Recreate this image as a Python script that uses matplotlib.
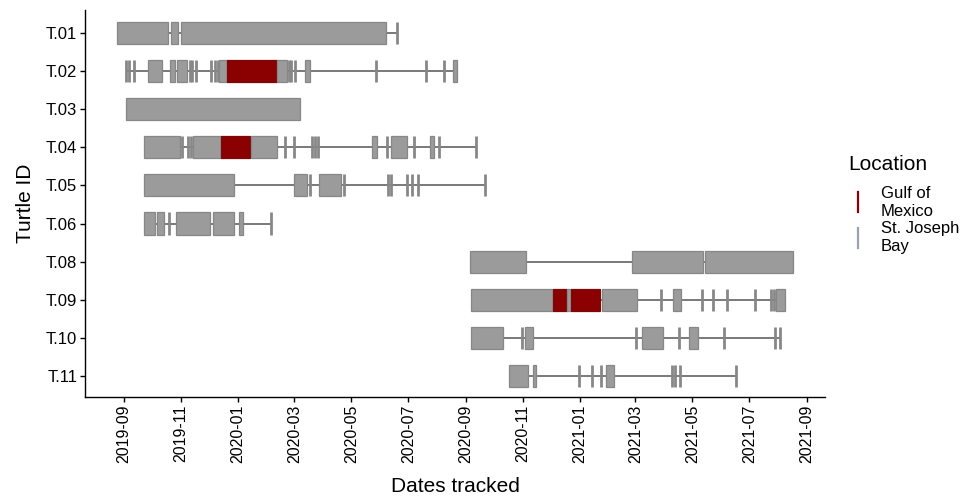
import matplotlib.pyplot as plt
import matplotlib.dates as mdates
from matplotlib.patches import Rectangle
from matplotlib.lines import Line2D

plt.rcParams['font.family'] = ['Liberation Sans', 'DejaVu Sans']

ids = ['T.01', 'T.02', 'T.03', 'T.04', 'T.05', 'T.06', 'T.08', 'T.09', 'T.10', 'T.11']

# runs of consecutive daily fixes: (first day, last day, location)
# single fixes: (day, location);  G = Gulf of Mexico, S = St. Joseph Bay
t01_runs = [('2019-08-24', '2019-10-18', 'S'), ('2019-10-21', '2019-10-29', 'S'),
            ('2019-11-01', '2020-06-07', 'S')]
t01_days = [('2020-06-19', 'S')]

t02_runs = [('2019-09-26', '2019-10-11', 'S'), ('2019-10-20', '2019-10-25', 'S'),
            ('2019-10-27', '2019-11-07', 'S'), ('2019-12-11', '2019-12-20', 'S'),
            ('2019-12-20', '2020-02-12', 'G'), ('2020-02-12', '2020-02-22', 'S'),
            ('2020-03-12', '2020-03-18', 'S'), ('2020-08-18', '2020-08-22', 'S')]
t02_days = [('2019-09-03', 'S'), ('2019-09-06', 'S'), ('2019-09-11', 'S'),
            ('2019-11-10', 'S'), ('2019-11-13', 'S'), ('2019-11-17', 'S'),
            ('2019-12-03', 'S'), ('2019-12-07', 'S'), ('2019-12-10', 'S'),
            ('2020-02-24', 'S'), ('2020-02-27', 'S'), ('2020-03-02', 'S'),
            ('2020-05-27', 'S'), ('2020-07-20', 'S'), ('2020-08-08', 'S')]

t03_runs = [('2019-09-03', '2020-03-07', 'S')]
t03_days = []

t04_runs = [('2019-09-22', '2019-10-31', 'S'), ('2019-11-14', '2019-12-14', 'S'),
            ('2019-12-14', '2020-01-14', 'G'), ('2020-01-15', '2020-02-11', 'S'),
            ('2020-05-23', '2020-05-29', 'S'), ('2020-06-12', '2020-06-30', 'S'),
            ('2020-07-24', '2020-07-29', 'S')]
t04_days = [('2019-11-02', 'S'), ('2019-11-08', 'S'), ('2019-11-11', 'S'),
            ('2020-02-20', 'S'), ('2020-03-01', 'S'), ('2020-03-20', 'S'),
            ('2020-03-23', 'S'), ('2020-03-26', 'S'), ('2020-06-08', 'S'),
            ('2020-07-07', 'S'), ('2020-08-03', 'S'), ('2020-09-12', 'S')]

t05_runs = [('2019-09-22', '2019-12-27', 'S'), ('2020-03-01', '2020-03-15', 'S'),
            ('2020-03-27', '2020-04-20', 'S')]
t05_days = [('2020-03-18', 'S'), ('2020-04-23', 'S'), ('2020-06-09', 'S'),
            ('2020-06-12', 'S'), ('2020-06-30', 'S'), ('2020-07-05', 'S'),
            ('2020-07-11', 'S'), ('2020-09-21', 'S')]

t06_runs = [('2019-09-22', '2019-10-04', 'S'), ('2019-10-06', '2019-10-14', 'S'),
            ('2019-10-26', '2019-12-02', 'S'), ('2019-12-05', '2019-12-27', 'S'),
            ('2020-01-02', '2020-01-06', 'S')]
t06_days = [('2019-10-19', 'S'), ('2020-02-05', 'S')]

t08_runs = [('2020-09-05', '2020-11-04', 'S'), ('2021-02-25', '2021-05-12', 'S'),
            ('2021-05-15', '2021-08-17', 'S')]
t08_days = []

t09_runs = [('2020-09-06', '2020-12-03', 'S'), ('2020-12-03', '2020-12-18', 'G'),
            ('2020-12-18', '2020-12-22', 'S'), ('2020-12-22', '2021-01-22', 'G'),
            ('2021-01-24', '2021-03-03', 'S'), ('2021-04-10', '2021-04-19', 'S'),
            ('2021-07-30', '2021-08-08', 'S')]
t09_days = [('2021-03-29', 'S'), ('2021-05-11', 'S'), ('2021-05-23', 'S'),
            ('2021-06-07', 'S'), ('2021-07-07', 'S'), ('2021-07-24', 'S'),
            ('2021-07-27', 'S')]

t10_runs = [('2020-09-06', '2020-10-10', 'S'), ('2020-11-03', '2020-11-12', 'S'),
            ('2021-03-08', '2021-03-31', 'S'), ('2021-04-27', '2021-05-07', 'S')]
t10_days = [('2020-10-31', 'S'), ('2021-03-02', 'S'), ('2021-04-17', 'S'),
            ('2021-06-04', 'S'), ('2021-07-28', 'S'), ('2021-08-03', 'S')]

t11_runs = [('2020-10-17', '2020-11-06', 'S'), ('2020-11-12', '2020-11-15', 'S'),
            ('2021-01-29', '2021-02-06', 'S')]
t11_days = [('2020-12-31', 'S'), ('2021-01-14', 'S'), ('2021-01-23', 'S'),
            ('2021-04-09', 'S'), ('2021-04-13', 'S'), ('2021-04-18', 'S'),
            ('2021-06-17', 'S')]

runs = [t01_runs, t02_runs, t03_runs, t04_runs, t05_runs,
        t06_runs, t08_runs, t09_runs, t10_runs, t11_runs]
days = [t01_days, t02_days, t03_days, t04_days, t05_days,
        t06_days, t08_days, t09_days, t10_days, t11_days]

fill = {'G': '#8b0000', 'S': '#9b9b9b'}
edge = {'G': '#7a0a0a', 'S': '#878787'}
h = 0.58

W, H = 966, 501
fig = plt.figure(figsize=(W / 100, H / 100), dpi=100)
ax = fig.add_axes([0.088, 0.2076, 0.766, 0.7724])

for i in range(len(ids)):
    y = i + 1
    d = [r[0] for r in runs[i]] + [r[1] for r in runs[i]] + [p[0] for p in days[i]]
    nums = mdates.datestr2num(d)
    ax.hlines(y, nums.min(), nums.max(), color='#6e6e6e', lw=1.3, zorder=1)
    for s, e, loc in runs[i]:
        s, e = mdates.datestr2num([s, e])
        ax.add_patch(Rectangle((s, y - h / 2), e - s, h, fc=fill[loc], ec=edge[loc],
                               lw=0.9, zorder=2))
    for p, loc in days[i]:
        ax.vlines(mdates.datestr2num(p), y - h / 2, y + h / 2, color=edge[loc],
                  lw=2.0, zorder=3)

ax.set_xlim(mdates.datestr2num(['2019-07-21', '2021-09-20']))
ax.xaxis.set_major_locator(mdates.MonthLocator(bymonth=[1, 3, 5, 7, 9, 11]))
ax.xaxis.set_major_formatter(mdates.DateFormatter('%Y-%m'))
ax.set_yticks(range(1, len(ids) + 1), ids)
ax.set_ylim(10.55, 0.4)

for s in ['top', 'right']:
    ax.spines[s].set_visible(False)
for s in ['left', 'bottom']:
    ax.spines[s].set_linewidth(1.0)
ax.tick_params(axis='both', length=3.6, width=1.0, colors='black', pad=2)
ax.tick_params(axis='y', labelsize=12)
ax.tick_params(axis='x', labelsize=11.5, labelrotation=90)

ax.set_xlabel('Dates tracked', fontsize=15, labelpad=10)
ax.set_ylabel('Turtle ID', fontsize=15, labelpad=8)

# legend, placed by hand
def fx(px):
    return px / W

def fy(py):
    return 1 - py / H

fig.text(fx(848), fy(165), 'Location', fontsize=15, va='center', ha='left')
keys = [('#8b0000', 'Gulf of\nMexico', 192, 212),
        ('#9aa0ad', 'St. Joseph\nBay', 228, 248)]
for col, lab, y0, y1 in keys:
    fig.add_artist(Line2D([fx(858), fx(858)], [fy(y0), fy(y1)], color=col, lw=1.6))
    fig.text(fx(881), fy((y0 + y1) / 2), lab, fontsize=12, va='center', ha='left',
             linespacing=1.25)

fig.savefig('out.png', dpi=100)
